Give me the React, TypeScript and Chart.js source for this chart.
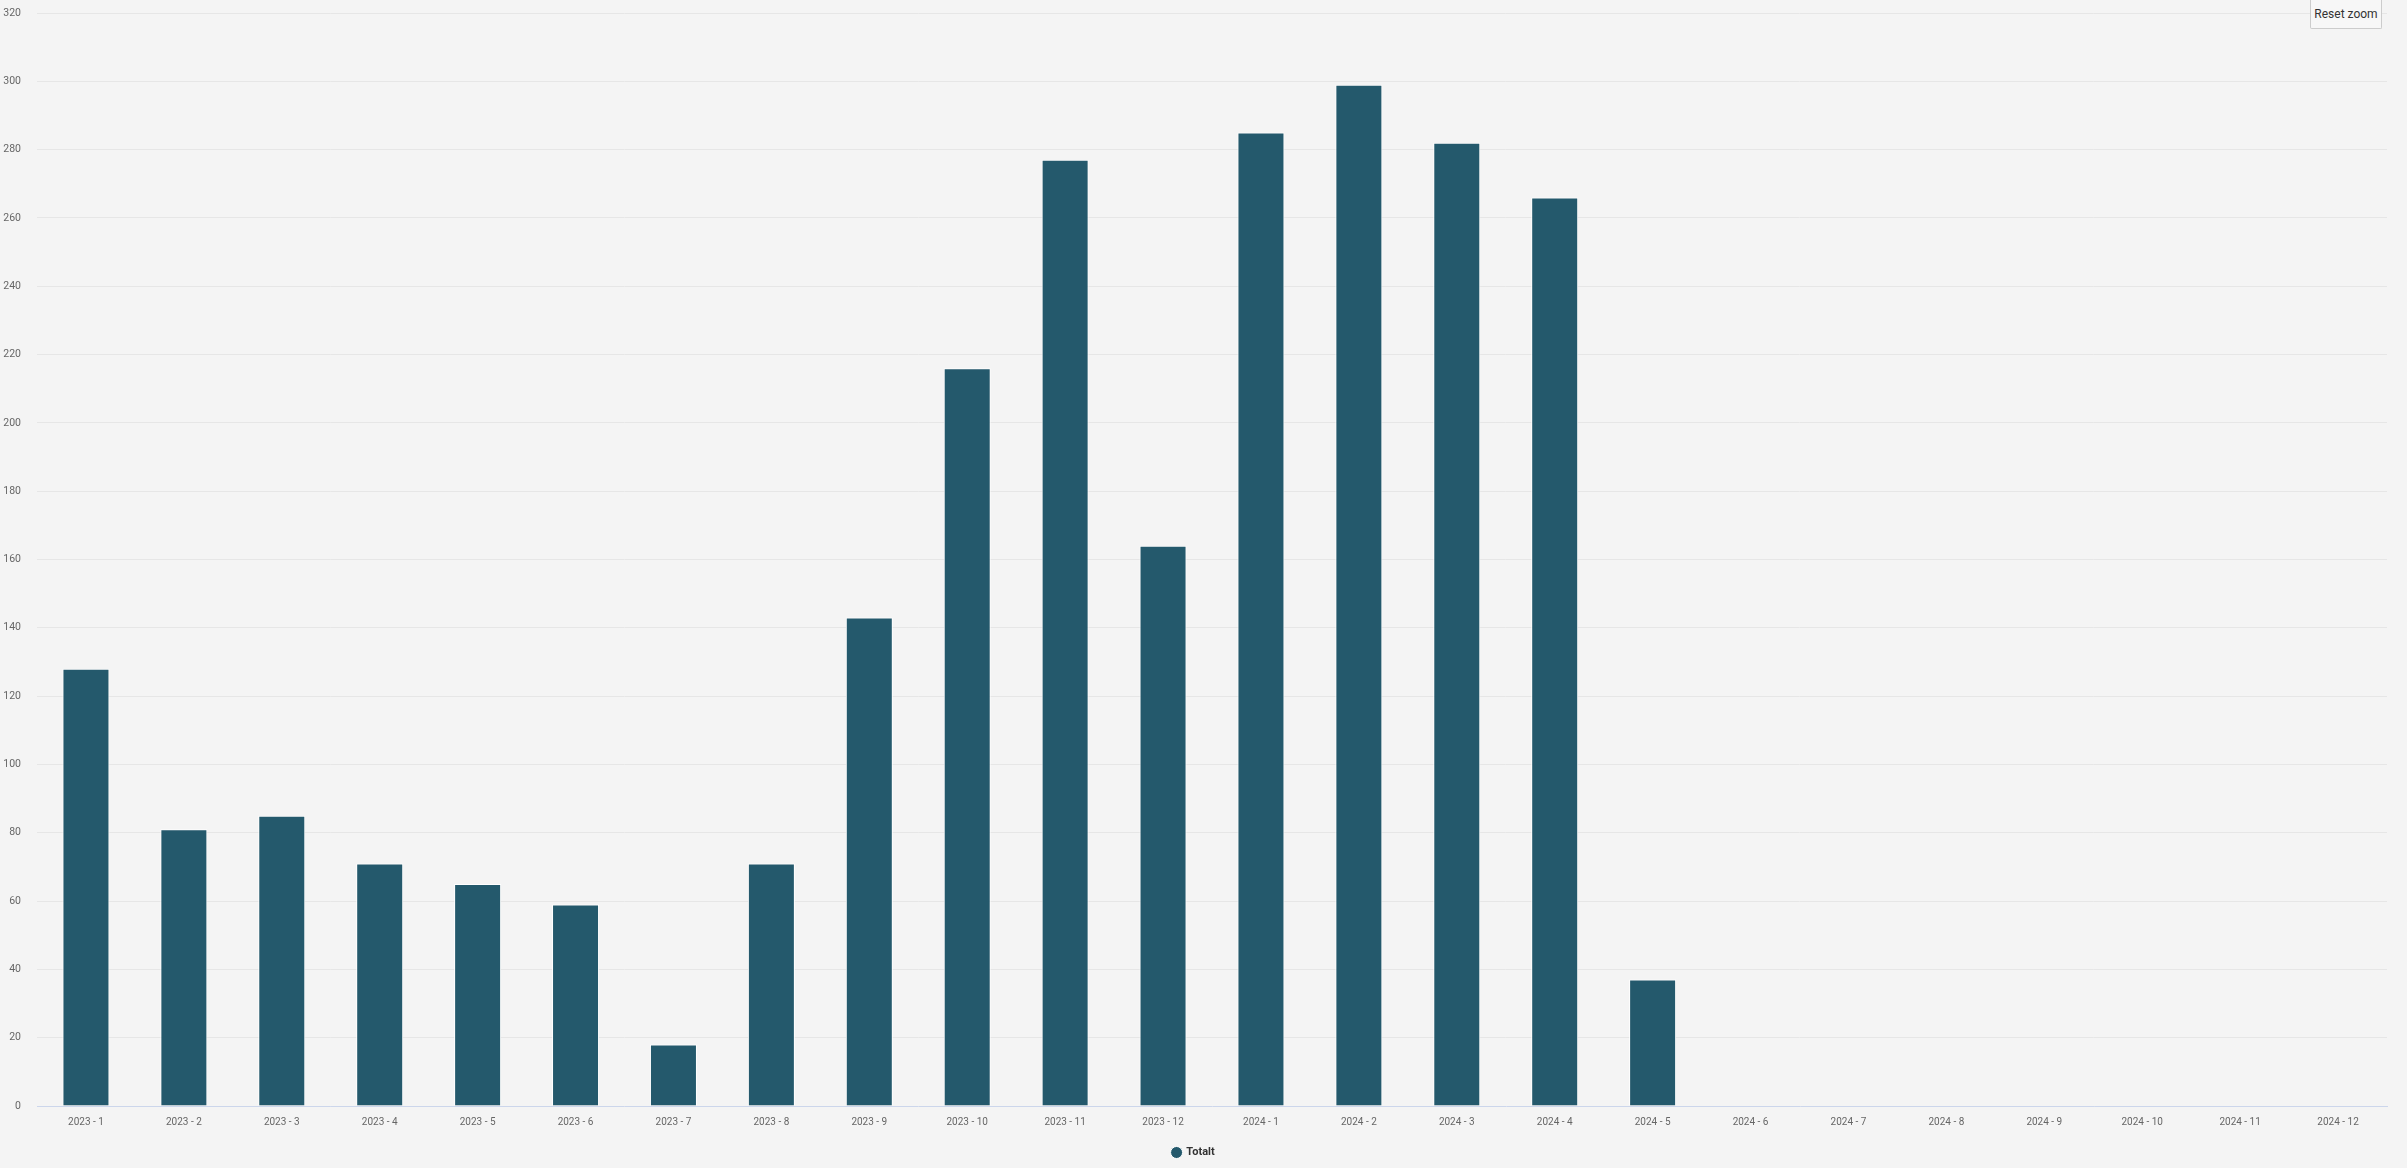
import React, { useEffect, useRef } from "react";
import { Chart, registerables } from "chart.js";

Chart.register(...registerables);

const categories: string[] = [
  "2023 - 1", "2023 - 2", "2023 - 3", "2023 - 4", "2023 - 5", "2023 - 6",
  "2023 - 7", "2023 - 8", "2023 - 9", "2023 - 10", "2023 - 11", "2023 - 12",
  "2024 - 1", "2024 - 2", "2024 - 3", "2024 - 4", "2024 - 5", "2024 - 6",
  "2024 - 7", "2024 - 8", "2024 - 9", "2024 - 10", "2024 - 11", "2024 - 12",
];

const totaltValues: (number | null)[] = [
  128, 81, 85, 71, 65, 59,
  18, 71, 143, 216, 277, 164,
  285, 299, 282, 266, 37, null,
  null, null, null, null, null, null,
];

const seriesName = "Totalt";
const yMax = 320;
const yStep = 20;

export default function App() {
  const canvasRef = useRef<HTMLCanvasElement | null>(null);

  useEffect(() => {
    document.body.style.margin = "0";
    const canvas = canvasRef.current;
    if (!canvas) return;
    const chart = new Chart(canvas, {
      type: "bar",
      data: {
        labels: categories,
        datasets: [
          {
            label: seriesName,
            data: totaltValues,
            backgroundColor: "#24596c",
            borderColor: "#ffffff",
            borderWidth: 1,
            categoryPercentage: 1,
            barPercentage: 0.48,
          },
        ],
      },
      options: {
        animation: false,
        responsive: true,
        maintainAspectRatio: false,
        devicePixelRatio: 1,
        layout: { padding: { top: 13, right: 20, bottom: 0, left: 0 } },
        plugins: {
          tooltip: { enabled: false },
          legend: {
            display: true,
            position: "bottom",
            labels: {
              usePointStyle: true,
              pointStyle: "circle",
              boxWidth: 8.5,
              boxHeight: 8.5,
              padding: 18,
              color: "#333333",
              font: { family: "Roboto", size: 11, weight: "bold" },
            },
          },
        },
        scales: {
          x: {
            grid: { display: false, drawTicks: false },
            border: { display: true, color: "#ccd6eb", width: 1 },
            ticks: {
              color: "#666666",
              padding: 10,
              maxRotation: 0,
              autoSkip: false,
              font: { family: "Roboto", size: 10 },
            },
            afterFit: (scale: any) => {
              scale.height = 23;
            },
          },
          y: {
            min: 0,
            max: yMax,
            border: { display: false },
            grid: {
              drawTicks: false,
              color: (ctx: any) => (ctx.tick && ctx.tick.value === 0 ? "rgba(0,0,0,0)" : "#e6e6e6"),
              lineWidth: 1,
            },
            ticks: {
              stepSize: yStep,
              color: "#666666",
              padding: 16,
              font: { family: "Roboto", size: 10.5 },
            },
            afterFit: (scale: any) => {
              scale.width = 37;
              scale.paddingTop = 0;
              scale.paddingBottom = 0;
            },
          },
        },
      },
    });
    return () => chart.destroy();
  }, []);

  return (
    <div
      style={{
        position: "fixed",
        left: 0,
        top: 0,
        width: 2407,
        height: 1168,
        background: "#f4f4f4",
      }}
    >
      <canvas ref={canvasRef} />
      <div
        style={{
          position: "absolute",
          left: 2310,
          top: 0,
          width: 72,
          height: 29,
          boxSizing: "border-box",
          background: "#f7f7f7",
          border: "1px solid #cccccc",
          borderTop: "none",
          borderRadius: "0 0 2px 2px",
          color: "#333333",
          fontFamily: "Roboto",
          fontSize: 12,
          display: "flex",
          alignItems: "center",
          justifyContent: "center",
        }}
      >
        Reset zoom
      </div>
    </div>
  );
}
